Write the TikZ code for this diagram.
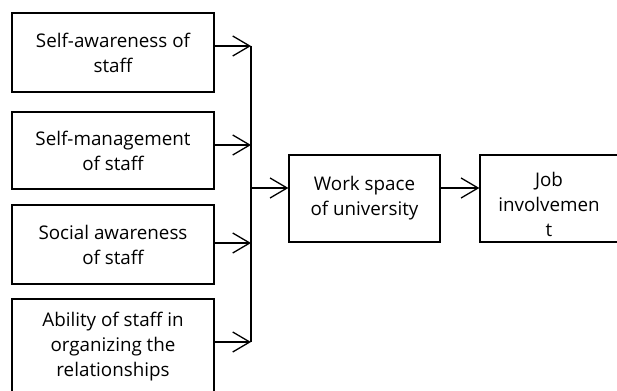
\documentclass[tikz,border=0pt]{standalone}
\usepackage{fontspec}
\setmainfont{Open Sans}
\usetikzlibrary{arrows.meta}
\begin{document}
\begin{tikzpicture}[x=1pt,y=-1pt,
  box/.style={draw, line width=1.3pt, align=center, inner sep=0pt,
    font=\fontsize{18.8}{25}\selectfont},
  link/.style={line width=1.3pt, -{Straight Barb[length=17pt,width=20pt,line width=1.3pt]}},
  bar/.style={line width=1.3pt}]
\useasboundingbox (0,0) rectangle (617,390);

% factor boxes on the left
\node[box, minimum width=202pt, minimum height=79pt] (b1) at (113,52.5) {Self-awareness of\\staff};
\node[box, minimum width=202pt, minimum height=77pt] (b2) at (113,150.5) {Self-management\\of staff};
\node[box, minimum width=202pt, minimum height=79pt] (b3) at (113,244.5) {Social awareness\\of staff};
\node[box, minimum width=202pt, minimum height=96pt] (b4) at (113,347) {Ability of staff in\\organizing the\\relationships};

% mediator and outcome (the outcome label sits a little low in its box)
\node[box, minimum width=151pt, minimum height=87pt] (b5) at (364.5,198.5) {Work space\\of university};
\node[box, minimum width=138pt, minimum height=87pt, text width=120pt] (b6) at (549,198.5) {\rule{0pt}{27pt}Job\\involvemen\\t};

% collecting bar
\coordinate (j1) at (251,46);
\coordinate (j2) at (251,145);
\coordinate (j3) at (251,243);
\coordinate (j4) at (251,342);
\coordinate (jm) at (251,188);
\draw[bar] (j1) -- (j4);

\draw[link] (b1.east |- j1) -- (j1);
\draw[link] (b2.east |- j2) -- (j2);
\draw[link] (b3.east |- j3) -- (j3);
\draw[link] (b4.east |- j4) -- (j4);
\draw[link] (jm) -- (b5.west |- jm);
\draw[link] (b5.east |- jm) -- (b6.west |- jm);
\end{tikzpicture}
\end{document}
